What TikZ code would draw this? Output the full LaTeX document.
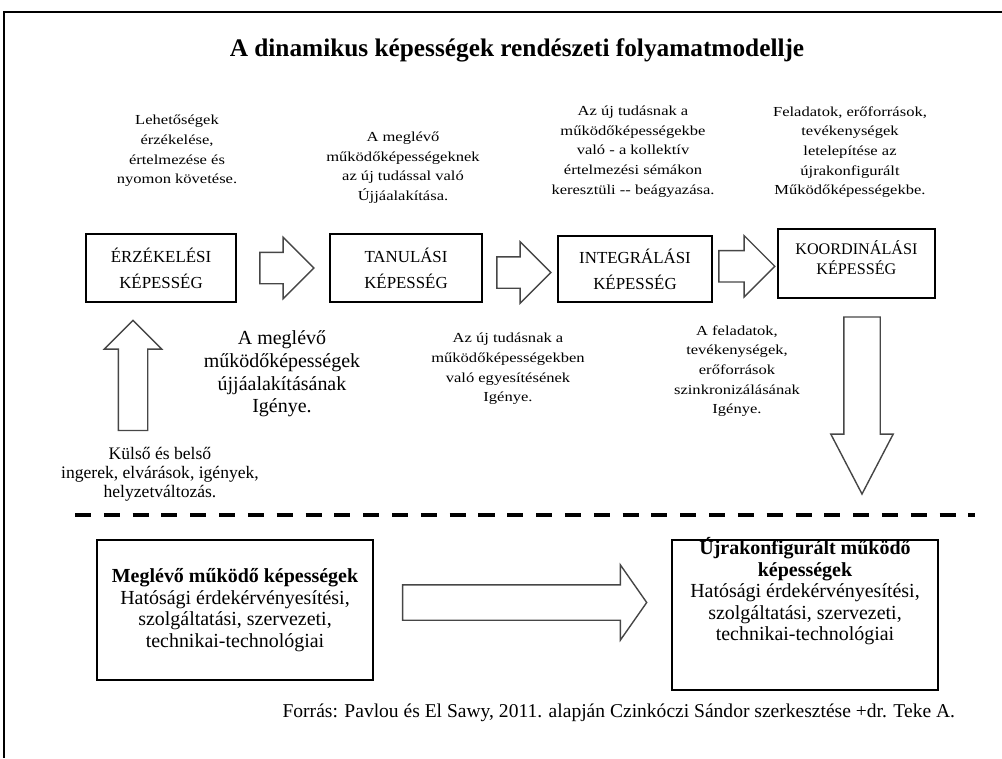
\documentclass[tikz,border=0pt]{standalone}
\usepackage{fontspec}
\setmainfont{Liberation Serif}
\newfontfamily\widefont[FakeStretch=1.2]{Liberation Serif}
\usepackage{tikz}
\usetikzlibrary{shapes.arrows, positioning, calc}
\definecolor{arrowgray}{RGB}{70, 70, 70}

\tikzset{
    capbox/.style={draw, line width=1pt, align=center, inner sep=0pt,
        font=\fontsize{12}{18.5}\selectfont},
    blockarrow/.style={single arrow, draw=arrowgray, line width=1pt,
        single arrow tip angle=90},
    desctext/.style={align=center, font=\widefont\fontsize{9.8}{14}\selectfont},
    bigtext/.style={align=center, font=\fontsize{14.2}{16.2}\selectfont},
    basebox/.style={draw, line width=1pt, inner sep=0pt},
    basetext/.style={align=center, font=\fontsize{14.2}{15.3}\selectfont}
}

\begin{document}
\begin{tikzpicture}
    \useasboundingbox (0,0) rectangle (25.05,-18.95);

    % frame (top and left edge only)
    \draw[line width=1.2pt] (25.05,-0.3) -- (0.1,-0.3) -- (0.1,-18.95);

    % Title
    \node[font=\fontsize{18}{21}\selectfont\bfseries] (title) at (12.925,-1.25)
        {A dinamikus képességek rendészeti folyamatmodellje};

    % Capability boxes
    \node[capbox, minimum width=3.75cm, minimum height=1.7cm] (erz) at (4.025,-6.7)
        {ÉRZÉKELÉSI\\KÉPESSÉG};
    \node[capbox, minimum width=3.8cm, minimum height=1.7cm] (tan) at (10.15,-6.7)
        {TANULÁSI\\KÉPESSÉG};
    \node[capbox, minimum width=3.85cm, minimum height=1.65cm] (integ) at (15.875,-6.725)
        {INTEGRÁLÁSI\\KÉPESSÉG};
    \node[capbox, minimum width=3.925cm, minimum height=1.725cm,
        font=\fontsize{11.5}{14}\selectfont] (koord) at (21.41,-6.59)
        {KOORDINÁLÁSI\\KÉPESSÉG\\[-5.4pt]};

    % Block arrows between the boxes
    \node[blockarrow, minimum height=1.35cm, inner sep=0.375cm,
        single arrow head extend=0.375cm] (a1) at ($(erz.east)!0.5!(tan.west)+(-0.1,0)$) {};
    \node[blockarrow, minimum height=1.35cm, inner sep=0.375cm,
        single arrow head extend=0.375cm] (a2) at ($(tan.east)!0.5!(integ.west)+(-0.1,-0.1)$) {};
    \node[blockarrow, minimum height=1.4cm, inner sep=0.375cm,
        single arrow head extend=0.375cm] (a3) at ($(integ.east)!0.5!(koord.west)+(-0.15,0)$) {};

    % Descriptions above the boxes
    \node[desctext] (d1) at (4.425,-3.775)
        {Lehetőségek\\érzékelése,\\értelmezése és\\nyomon követése.};
    \node[desctext] (d2) at (10.075,-4.19)
        {A meglévő\\működőképességeknek\\az új tudással való\\Újjáalakítása.};
    \node[desctext] (d3) at (15.825,-3.79)
        {Az új tudásnak a\\működőképességekbe\\való - a kollektív\\értelmezési sémákon\\keresztüli -- beágyazása.};
    \node[desctext] (d4) at (21.25,-3.8)
        {Feladatok, erőforrások,\\tevékenységek\\letelepítése az\\újrakonfigurált\\Működőképességekbe.};

    % Needs below the boxes
    \node[bigtext] (n1) at (7.05,-9.35)
        {A meglévő\\működőképességek\\újjáalakításának\\Igénye.};
    \node[desctext] (n2) at (12.7,-9.225)
        {Az új tudásnak a\\működőképességekben\\való egyesítésének\\Igénye.};
    \node[desctext] (n3) at (18.425,-9.275)
        {A feladatok,\\tevékenységek,\\erőforrások\\szinkronizálásának\\Igénye.};

    % Input arrow and its text
    \node[blockarrow, shape border rotate=90, minimum height=2.75cm, inner sep=0.35cm,
        single arrow head extend=0.35cm] (up) at (3.325,-9.57) {};
    \node[align=center, font=\fontsize{12.5}{13.5}\selectfont] (ingerek) at (4.0,-11.85)
        {Külső és belső\\ingerek, elvárások, igények,\\helyzetváltozás.};

    % Output arrow
    \node[blockarrow, shape border rotate=270, minimum height=4.425cm, inner sep=0.4375cm,
        single arrow head extend=0.325cm, single arrow tip angle=55] (down) at (21.55,-9.7) {};

    % Dashed separator
    \draw[line width=2.5pt, dash pattern=on 11.4pt off 9.1pt] (1.875,-12.875) -- (24.375,-12.875);

    % Operational capabilities
    \node[basebox, minimum width=6.9cm, minimum height=3.5cm] (meglevo) at (5.875,-15.25) {};
    \node[basetext] at (meglevo.center)
        {\textbf{Meglévő működő képességek}\\Hatósági érdekérvényesítési,\\szolgáltatási, szervezeti,\\technikai-technológiai};
    \node[basebox, minimum width=6.65cm, minimum height=3.75cm] (ujra) at (20.125,-15.375) {};
    \node[basetext] at (20.125,-14.78)
        {\textbf{Újrakonfigurált működő}\\\textbf{képességek}\\Hatósági érdekérvényesítési,\\szolgáltatási, szervezeti,\\technikai-technológiai};

    \node[blockarrow, minimum height=6.1cm, inner sep=0.425cm,
        single arrow head extend=0.5cm, single arrow tip angle=110] (a4)
        at ($(meglevo.east)!0.5!(ujra.west)+(-0.1,0.25)$) {};

    % Source
    \node[anchor=east, font=\fontsize{13.9}{15}\selectfont] (forras) at (24.0,-17.825)
        {Forrás: Pavlou és El Sawy, 2011. alapján Czinkóczi Sándor szerkesztése +dr. Teke A.};

\end{tikzpicture}
\end{document}
